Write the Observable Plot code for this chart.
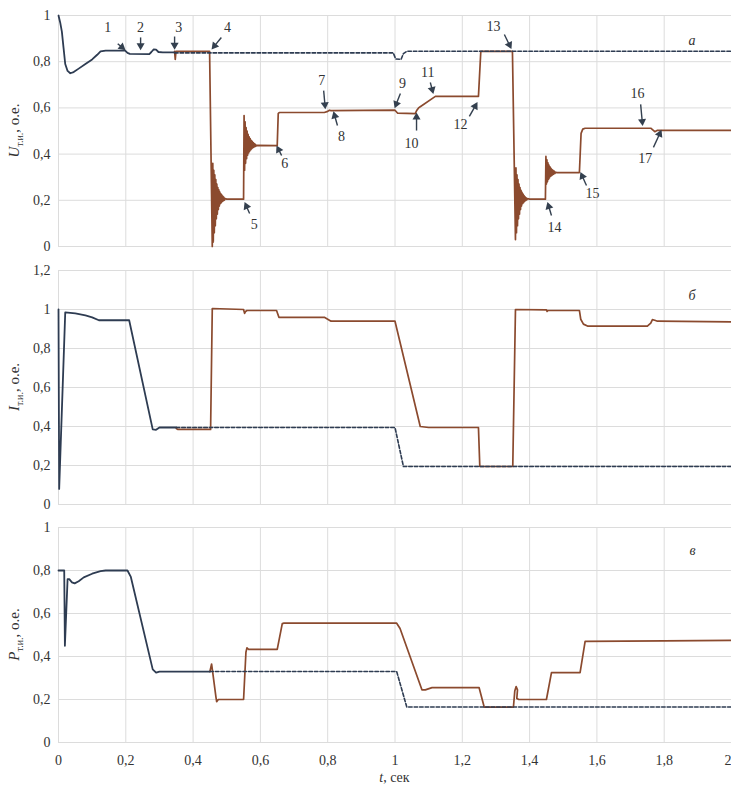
<!DOCTYPE html>
<html>
<head>
<meta charset="utf-8">
<script src="https://cdn.jsdelivr.net/npm/d3@7"></script>
<script src="https://cdn.jsdelivr.net/npm/@observablehq/plot@0.6"></script>
<style>
  html, body { margin: 0; padding: 0; background: #fff; overflow: hidden; }
  #chart { width: 731px; }
  #chart svg { display: block; overflow: visible; }
  #chart svg text { font-family: 'Liberation Serif', 'DejaVu Serif', serif !important; }
</style>
</head>
<body>
<div id="chart"></div>
<script>
// ---------- axis ticks ----------
const xTicks = [0, 0.2, 0.4, 0.6, 0.8, 1, 1.2, 1.4, 1.6, 1.8, 2];
const yTicksA = [0, 0.2, 0.4, 0.6, 0.8, 1];
const yTicksB = [0, 0.2, 0.4, 0.6, 0.8, 1, 1.2];
const yTicksC = [0, 0.2, 0.4, 0.6, 0.8, 1];

// ---------- panel а: voltage U ----------
const uCommon = [[0,1.0],[0.005,0.97],[0.01,0.93],[0.015,0.86],[0.02,0.79],[0.027,0.76],[0.035,0.75],[0.045,0.755],[0.06,0.77],[0.08,0.79],[0.1,0.81],[0.115,0.83],[0.125,0.845],[0.14,0.848],[0.198,0.848],[0.205,0.838],[0.212,0.834],[0.27,0.833],[0.276,0.842],[0.283,0.853],[0.29,0.852],[0.297,0.842],[0.31,0.84],[0.345,0.84]];
const uDashed = [[0.345,0.838],[0.995,0.838],[1.002,0.812],[1.018,0.81],[1.025,0.835],[1.035,0.845],[2.0,0.845]];
const uBrown = [[0.345,0.845],[0.347,0.81],[0.349,0.845],[0.449,0.845],[0.457,0.0],
  [0.4585,0.36],[0.460,0.02],[0.4615,0.33],[0.463,0.06],[0.4645,0.31],[0.466,0.09],[0.4675,0.29],[0.469,0.12],[0.4705,0.27],[0.472,0.14],[0.4735,0.255],[0.475,0.16],[0.4765,0.245],[0.478,0.175],[0.4795,0.235],[0.481,0.185],[0.4825,0.228],[0.484,0.19],[0.4855,0.222],[0.487,0.195],[0.4885,0.217],[0.490,0.198],[0.4915,0.213],[0.493,0.201],[0.495,0.207],[0.50,0.205],
  [0.550,0.205],[0.5515,0.567],[0.553,0.33],[0.5545,0.54],[0.556,0.36],[0.5575,0.515],[0.559,0.38],[0.5605,0.50],[0.562,0.395],[0.5635,0.485],[0.565,0.405],[0.5665,0.475],[0.568,0.412],[0.5695,0.467],[0.571,0.418],[0.5725,0.46],[0.574,0.423],[0.5755,0.455],[0.577,0.427],[0.5785,0.45],[0.580,0.43],[0.5815,0.446],[0.583,0.432],[0.585,0.442],[0.587,0.435],[0.59,0.438],
  [0.650,0.437],[0.653,0.575],[0.656,0.58],[0.79,0.58],[0.80,0.585],[0.805,0.59],[0.81,0.588],[1.0,0.59],[1.008,0.577],[1.06,0.575],[1.065,0.59],[1.07,0.6],[1.075,0.605],[1.12,0.65],[1.248,0.65],[1.255,0.845],[1.349,0.845],[1.358,0.03],
  [1.3595,0.34],[1.361,0.06],[1.3625,0.31],[1.364,0.09],[1.3655,0.29],[1.367,0.12],[1.3685,0.27],[1.370,0.14],[1.3715,0.255],[1.373,0.16],[1.3745,0.243],[1.376,0.175],[1.3775,0.234],[1.379,0.185],[1.3805,0.227],[1.382,0.19],[1.3835,0.22],[1.385,0.195],[1.3865,0.215],[1.388,0.199],[1.3895,0.211],[1.391,0.202],[1.394,0.207],[1.40,0.205],
  [1.447,0.205],[1.4485,0.39],[1.450,0.27],[1.4515,0.375],[1.453,0.28],[1.4545,0.362],[1.456,0.29],[1.4575,0.352],[1.459,0.297],[1.4605,0.345],[1.462,0.303],[1.4635,0.338],[1.465,0.307],[1.4665,0.333],[1.468,0.31],[1.4695,0.33],[1.471,0.313],[1.473,0.326],[1.475,0.316],[1.478,0.322],[1.48,0.32],
  [1.548,0.32],[1.553,0.49],[1.558,0.508],[1.565,0.512],[1.76,0.512],[1.772,0.497],[1.78,0.503],[2.0,0.503]];

// ---------- panel б: current I ----------
const iCommon = [[0,1.0],[0.002,0.08],[0.02,0.985],[0.05,0.98],[0.08,0.97],[0.1,0.96],[0.12,0.945],[0.21,0.945],[0.28,0.385],[0.29,0.383],[0.3,0.395],[0.35,0.395]];
const iDashed = [[0.35,0.395],[1.0,0.395],[1.025,0.195],[2.0,0.195]];
const iBrown = [[0.35,0.39],[0.355,0.385],[0.452,0.385],[0.457,1.005],[0.55,1.0],[0.553,0.98],[0.556,0.99],[0.56,0.995],[0.648,0.995],[0.655,0.96],[0.79,0.96],[0.81,0.94],[1.0,0.94],[1.075,0.40],[1.1,0.395],[1.248,0.395],[1.252,0.195],[1.35,0.195],[1.358,1.0],[1.45,0.998],[1.452,0.99],[1.455,0.995],[1.548,0.995],[1.552,0.95],[1.56,0.925],[1.572,0.915],[1.75,0.915],[1.76,0.93],[1.765,0.948],[1.772,0.945],[1.78,0.94],[2.0,0.937]];

// ---------- panel в: power P ----------
const pCommon = [[0,0.8],[0.017,0.8],[0.019,0.45],[0.027,0.76],[0.032,0.76],[0.04,0.745],[0.048,0.74],[0.06,0.75],[0.075,0.768],[0.1,0.785],[0.125,0.797],[0.14,0.8],[0.205,0.8],[0.215,0.77],[0.28,0.34],[0.29,0.325],[0.3,0.33],[0.45,0.33]];
const pDashed = [[0.45,0.33],[1.005,0.33],[1.035,0.165],[2.0,0.165]];
const pBrown = [[0.45,0.33],[0.455,0.365],[0.458,0.33],[0.468,0.21],[0.47,0.19],[0.475,0.2],[0.55,0.2],[0.557,0.42],[0.56,0.44],[0.565,0.433],[0.65,0.433],[0.665,0.553],[0.67,0.555],[1.005,0.555],[1.015,0.53],[1.08,0.245],[1.09,0.245],[1.11,0.255],[1.25,0.255],[1.265,0.165],[1.352,0.165],[1.356,0.24],[1.36,0.26],[1.364,0.245],[1.362,0.205],[1.368,0.2],[1.45,0.2],[1.465,0.325],[1.55,0.325],[1.565,0.47],[1.8,0.473],[2.0,0.475]];

// ---------- annotations in panel а ----------
const annLabels = ["1","2","3","4","5","6","7","8","9","10","11","12","13","14","15","16","17"];
const annText = [[0.146,0.948],[0.244,0.948],[0.357,0.948],[0.502,0.948],[0.582,0.095],[0.672,0.359],[0.782,0.719],[0.841,0.476],[1.022,0.706],[1.049,0.446],[1.097,0.753],[1.195,0.528],[1.293,0.952],[1.474,0.082],[1.587,0.229],[1.721,0.662],[1.744,0.381]];
const annTail = [[0.176,0.878],[0.244,0.905],[0.345,0.909],[0.484,0.905],[0.568,0.143],[0.663,0.394],[0.788,0.675],[0.829,0.524],[1.016,0.662],[1.064,0.502],[1.105,0.710],[1.221,0.563],[1.325,0.918],[1.465,0.134],[1.569,0.264],[1.730,0.615],[1.768,0.429]];
const annTip = [[0.199,0.850],[0.244,0.850],[0.345,0.852],[0.455,0.853],[0.553,0.192],[0.648,0.437],[0.793,0.594],[0.817,0.585],[0.999,0.599],[1.064,0.580],[1.114,0.660],[1.245,0.625],[1.346,0.855],[1.453,0.192],[1.551,0.322],[1.736,0.522],[1.792,0.505]];

// ---------- styling ----------
const W = 731, ML = 58, MR = 0;
const BROWN = "#8b4a2e", NAVY = "#2e3c52", GRID = "#dcdcdc", ARROW = "#34404f", TXT = "#333";
const FONT = "Liberation Serif";
const fmt = d => String(+d.toFixed(1)).replace(".", ",");
const X = d => d[0], Y = d => d[1];

function panel({height, mt, mb, yDomain, yTicks, common, dashed, brown, letter, sym, xAxis, extra = []}) {
  const marks = [
    Plot.gridX(xTicks, {stroke: GRID, strokeOpacity: 1, strokeWidth: 1}),
    Plot.gridY(yTicks, {stroke: GRID, strokeOpacity: 1, strokeWidth: 1}),
    Plot.axisY(yTicks, {tickSize: 0, tickPadding: 8, tickFormat: fmt, fontSize: 14, fontFamily: FONT, fill: TXT, label: null}),
    Plot.line(brown, {x: X, y: Y, stroke: BROWN, strokeWidth: 1.7}),
    Plot.line(dashed, {x: X, y: Y, stroke: NAVY, strokeWidth: 1.6, strokeDasharray: "3.5,2"}),
    Plot.line(common, {x: X, y: Y, stroke: NAVY, strokeWidth: 1.8}),
    Plot.text([letter], {frameAnchor: "top-right", dx: -36, dy: 20 - mt + 15, fontStyle: "italic", fontSize: 14, fontFamily: FONT, fill: TXT}),
    ...extra
  ];
  if (xAxis) {
    const inner = xTicks.slice(0, -1), last = xTicks.slice(-1);
    marks.push(Plot.axisX(inner, {tickSize: 0, tickPadding: 13, tickFormat: fmt, fontSize: 14, fontFamily: FONT, fill: TXT, label: null}));
    marks.push(Plot.axisX(last, {tickSize: 0, tickPadding: 13, tickFormat: fmt, fontSize: 14, fontFamily: FONT, fill: TXT, label: null, textAnchor: "end"}));
  } else marks.push(Plot.axisX({ticks: [], label: null}));
  const svg = Plot.plot({
    width: W, height, marginLeft: ML, marginRight: MR, marginTop: mt, marginBottom: mb,
    style: {fontFamily: FONT, fontSize: "14px", background: "#fff", color: TXT, overflow: "visible"},
    x: {domain: [0, 2]},
    y: {domain: yDomain},
    marks
  });
  // rotated y-axis title with italic symbol and subscript
  const cy = mt + (height - mt - mb) / 2;
  const t = d3.select(svg).append("text")
    .attr("transform", `translate(19,${cy}) rotate(-90)`)
    .attr("text-anchor", "middle")
    .attr("font-family", FONT).attr("font-size", 15).attr("fill", TXT);
  t.append("tspan").attr("font-style", "italic").text(sym);
  t.append("tspan").attr("font-size", 10).attr("dy", 4).text("т.и.");
  t.append("tspan").attr("dy", -4).text(", о.е.");
  return svg;
}

// annotation marks for panel а
const hA = 255, mtA = 15, mbA = 9;
const kx = (W - ML - MR) / 2, ky = (hA - mtA - mbA) / 1;
const HEAD = 4.6;
const ann = annLabels.map((label, i) => {
  const [tx, ty] = annTail[i], [px, py] = annTip[i];
  const dxp = (px - tx) * kx, dyp = -(py - ty) * ky;
  const len = Math.hypot(dxp, dyp), ux = dxp / len, uy = dyp / len;
  return {
    label, x: annText[i][0], y: annText[i][1], x1: tx, y1: ty,
    cx: px - ux * HEAD / kx, cy: py + uy * HEAD / ky,
    angle: Math.atan2(ux, -uy) * 180 / Math.PI
  };
});
const annMarks = [
  Plot.link(ann, {x1: "x1", y1: "y1", x2: "cx", y2: "cy", stroke: ARROW, strokeWidth: 1.4}),
  Plot.dot(ann, {x: "cx", y: "cy", symbol: "triangle", r: 3, fill: ARROW, stroke: "none", rotate: "angle"}),
  Plot.text(ann, {x: "x", y: "y", text: "label", fontSize: 14, fontFamily: FONT, fill: TXT})
];

const root = document.getElementById("chart");
root.append(panel({height: hA, mt: mtA, mb: mbA, yDomain: [0, 1], yTicks: yTicksA,
  common: uCommon, dashed: uDashed, brown: uBrown, letter: "а", sym: "U", xAxis: false, extra: annMarks}));
root.append(panel({height: 255, mt: 15, mb: 6, yDomain: [0, 1.2], yTicks: yTicksB,
  common: iCommon, dashed: iDashed, brown: iBrown, letter: "б", sym: "I", xAxis: false}));
const svgC = panel({height: 275, mt: 17, mb: 43, yDomain: [0, 1], yTicks: yTicksC,
  common: pCommon, dashed: pDashed, brown: pBrown, letter: "в", sym: "P", xAxis: true});
// x-axis title
const xt = d3.select(svgC).append("text")
  .attr("x", ML + (W - ML - MR) / 2).attr("y", 272)
  .attr("text-anchor", "middle").attr("font-family", FONT).attr("font-size", 14).attr("fill", TXT);
xt.append("tspan").attr("font-style", "italic").text("t");
xt.append("tspan").text(", сек");
root.append(svgC);
</script>
</body>
</html>
